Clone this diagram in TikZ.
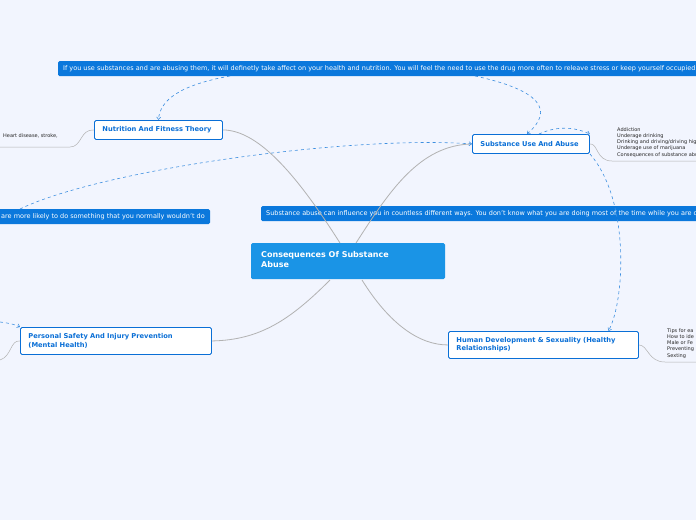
\documentclass[tikz,border=0pt]{standalone}
\usepackage{fontspec}
\setmainfont{DejaVu Sans}
\usetikzlibrary{arrows.meta}
\definecolor{bg}{HTML}{F2F5FE}
\definecolor{mainb}{HTML}{1A94E6}
\definecolor{banner}{HTML}{0B78DC}
\definecolor{topic}{HTML}{0A6FD6}
\definecolor{lnk}{HTML}{3D8FE0}
\tikzset{
 topicbox/.style={draw=topic,line width=0.9pt,fill=white,rounded corners=1.5pt,text=topic,font=\fontsize{6.7}{8.3}\selectfont\bfseries,anchor=north west,inner xsep=8pt,inner ysep=0pt,align=left},
 btext/.style={text=white,font=\fontsize{6.5}{7}\selectfont,inner sep=0pt},
 note/.style={font=\fontsize{5}{6.3}\selectfont,align=left,anchor=north west,inner sep=0pt,text=black!85},
 branch/.style={draw=black!30,line width=0.8pt},
 link/.style={draw=lnk,dashed,line width=0.6pt,-{Straight Barb[length=2.5pt,width=4pt]}}
}
\begin{document}
\begin{tikzpicture}[x=1pt,y=-1pt]
\useasboundingbox (0,0) rectangle (696,520);
\fill[bg] (0,0) rectangle (696,520);
\clip (0,0) rectangle (696,520);
% banners
\fill[banner,rounded corners=1.5pt] (58,61) rectangle (720,76);
\node[btext,anchor=west] (b1) at (63,68.5) {If you use substances and are abusing them, it will definetly take affect on your health and nutrition. You will feel the need to use the drug more often to releave stress or keep yourself occupied};
\fill[banner,rounded corners=1.5pt] (261,206) rectangle (720,221);
\node[btext,anchor=west] (b2) at (266,213.5) {Substance abuse can influence you in countless different ways. You don't know what you are doing most of the time while you are on drugs};
\fill[banner,rounded corners=1.5pt] (-20,209) rectangle (210,224);
\node[btext,anchor=east] (b3) at (205,216.5) {are more likely to do something that you normally wouldn't do};
\coordinate (b1a) at (230,76); \coordinate (b1b) at (475,76);
\coordinate (b3a) at (20,209); \coordinate (lft) at (0,322);
% main
\fill[mainb,rounded corners=1.5pt] (251,243) rectangle (445,279);
\node[anchor=north west,text=white,font=\fontsize{8}{10.5}\selectfont\bfseries,align=left,inner sep=0pt] (c) at (261,251) {Consequences Of Substance\\Abuse};
\coordinate (cT1) at (340,243); \coordinate (cT2) at (356,243);
\coordinate (cB1) at (330,280); \coordinate (cB2) at (362,280);
% topics
\node[topicbox,text width=112pt,minimum height=19pt] (n) at (94,120) {Nutrition And Fitness Theory};
\node[topicbox,text width=101pt,minimum height=19pt] (s) at (472,134) {Substance Use And Abuse};
\node[topicbox,text width=175pt,minimum height=27pt] (p) at (20,327) {Personal Safety And Injury Prevention\\(Mental Health)};
\node[topicbox,text width=174pt,minimum height=27pt] (h) at (448,331) {Human Development \& Sexuality (Healthy\\Relationships)};
% branches
\draw[branch] (cT1) .. controls (300,180) and (260,130) .. (n.east);
\draw[branch] (cT2) .. controls (390,190) and (420,145) .. (s.west);
\draw[branch] (cB1) .. controls (290,320) and (260,340) .. (p.east);
\draw[branch] (cB2) .. controls (390,325) and (420,345) .. (h.west);
% notes
\node[note] (nn) at (3,133) {Heart disease, stroke,};
\draw[branch,line width=0.5pt] (n.west) .. controls (80,129) and (82,147) .. (70,147) -- (0,147);
\node[note] (sn) at (617,127) {Addiction\\Underage drinking\\Drinking and driving/driving high\\Underage use of marijuana\\Consequences of substance abuse};
\draw[branch,line width=0.5pt] (s.east) .. controls (598,143) and (596,161) .. (612,161) -- (700,161);
\node[note] (hn) at (667,328) {Tips for ea\\How to ide\\Male or Fe\\Preventing\\Sexting};
\draw[branch,line width=0.5pt] (h.east) .. controls (648,345) and (648,362) .. (665,362) -- (700,362);
\draw[branch,line width=0.5pt] (p.west) .. controls (10,340) and (12,356) .. (0,360);
% links
\draw[link] (b1a) .. controls (180,85) and (160,100) .. (n.north);
\draw[link] (b1b) .. controls (540,90) and (555,110) .. ([xshift=-4pt]s.north);
\draw[link] (b3a) .. controls (100,170) and (350,135) .. (s.west);
\draw[link] (lft) .. controls (8,323) and (14,324) .. (p.north west);
\draw[link] ([xshift=8pt]s.north) .. controls (565,122) and (585,132) .. (s.north east);
\draw[link] (s.south east) .. controls (630,200) and (625,300) .. ([xshift=65pt]h.north);
\end{tikzpicture}
\end{document}
